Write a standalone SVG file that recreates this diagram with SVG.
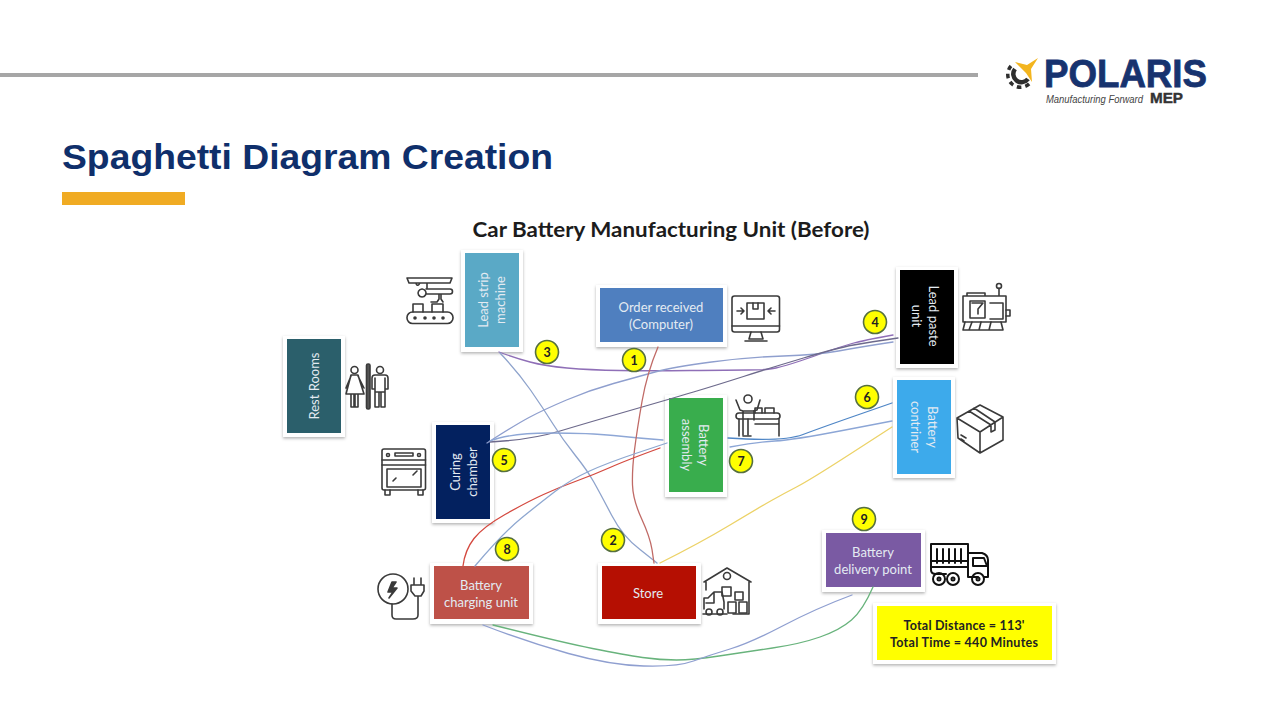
<svg xmlns="http://www.w3.org/2000/svg" width="1280" height="720" viewBox="0 0 1280 720">
<style>
.card{fill:#fff;filter:url(#sh)}
.lb{font-family:Lato,"Open Sans",sans-serif;font-size:13px;fill:#e4ebf2;text-anchor:middle}
.bd{fill:#ffff00;stroke:#56703f;stroke-width:1.6}
.bt{font-family:Lato,sans-serif;font-size:12.5px;font-weight:700;fill:#222;text-anchor:middle}
.c{fill:none;stroke-width:1.3;stroke-linecap:round;stroke-linejoin:round}
.ic{fill:none;stroke:#3a3a3a;stroke-width:1.6;stroke-linejoin:round;stroke-linecap:round}
.ib{fill:#3a3a3a;stroke:none}
</style>
<defs>
<filter id="sh" x="-15%" y="-15%" width="130%" height="130%"><feDropShadow dx="0" dy="1.5" stdDeviation="1.5" flood-color="#000" flood-opacity="0.3"/></filter>
</defs>
<rect width="1280" height="720" fill="#fff"/>
<rect x="0" y="73" width="978" height="4" fill="#a6a6a6"/>
<text x="62" y="169" font-family="Liberation Sans,Arial,sans-serif" font-size="35" font-weight="700" fill="#0f2f6b" textLength="491" lengthAdjust="spacingAndGlyphs">Spaghetti Diagram Creation</text>
<rect x="62" y="192" width="123" height="13" fill="#f0ab23"/>
<text x="671" y="237" font-family="Lato,sans-serif" font-size="20" font-weight="700" fill="#1c1c1c" text-anchor="middle" textLength="397" lengthAdjust="spacingAndGlyphs">Car Battery Manufacturing Unit (Before)</text>

<g id="logo">
<path d="M1015 69A8 8 0 1 0 1028 79" fill="none" stroke="#2e2e2e" stroke-width="4.500"/>
<path d="M1011 66A12 12 0 1 0 1030 83" fill="none" stroke="#2e2e2e" stroke-width="3.500" stroke-dasharray="4.500 4"/>
<polygon points="1038,58 1031,69 1032,82 1026,73 1015,62 1027,65" fill="#f3b51f"/>
<text x="1044" y="87" font-family="Liberation Sans,Arial,sans-serif" font-size="39" font-weight="700" fill="#17336f" stroke="#17336f" stroke-width="0.8" textLength="163" lengthAdjust="spacingAndGlyphs">POLARIS</text>
<text x="1046" y="103" font-family="Liberation Sans,Arial,sans-serif" font-size="10.5" font-style="italic" fill="#444" textLength="97" lengthAdjust="spacingAndGlyphs">Manufacturing Forward</text>
<text x="1150" y="103" font-family="Liberation Sans,Arial,sans-serif" font-size="14" font-weight="700" fill="#333" stroke="#333" stroke-width="0.4" textLength="33" lengthAdjust="spacingAndGlyphs">MEP</text>
</g>

<g id="n-leadstrip"><rect class="card" x="461" y="250" width="62" height="102"/><rect x="465" y="253" width="54" height="94" fill="#5aa9c6"/>
<text class="lb" transform="translate(488,300) rotate(-90)">Lead strip</text><text class="lb" transform="translate(505,300) rotate(-90)">machine</text>
<g class="ic"><path d="M407 278H452L450 283H409ZM416 283C417 287 419 285 420 283M427 283V288M422 289a4 4 0 1 0 0.1 0M426 289H450a2.500 2.500 0 0 1 0 5H426M439 294V299L437 302H431M441 294V299L443 302"/><rect x="407" y="312" width="46" height="11.500" rx="5.500"/><path d="M413 312V304H423V312M432 312V304H443V312"/></g>
<g class="ib"><circle cx="415" cy="318" r="1.800"/><circle cx="425" cy="318" r="1.800"/><circle cx="434" cy="318" r="1.800"/><circle cx="443" cy="318" r="1.800"/></g></g>

<g id="n-restrooms"><rect class="card" x="283" y="336" width="62" height="101"/><rect x="287" y="339" width="54" height="94" fill="#2b5f6b"/>
<text class="lb" transform="translate(319,386) rotate(-90)">Rest Rooms</text>
<g class="ic"><circle cx="354.500" cy="370" r="3.500"/><path d="M351 375H358L364 394H346ZM351 376L346 388M358 376L364 388M351 394V407H354V394M355 394V407H358V394"/><circle cx="380" cy="370" r="3.500"/><path d="M375 375H385Q388 375 388 378V389H385V378M375 378V389H372V378Q372 375 375 375M375 378V392H385V378M375 392V407H379V392M381 392V407H385V392"/><rect x="366.500" y="364" width="3.500" height="45" rx="1.500" fill="#555"/></g></g>

<g id="n-order"><rect class="card" x="596" y="285" width="131" height="62"/><rect x="600" y="288" width="123" height="54" fill="#4f7fbf"/>
<text class="lb" x="661" y="312">Order received</text><text class="lb" x="661" y="329">(Computer)</text>
<g class="ic"><rect x="732" y="296" width="47.500" height="36" rx="2.500"/><path d="M732 326H779.500M751 332L749 339H763L761 332M745 341H767"/><rect x="747" y="303" width="17" height="16"/><path d="M753 303V309H758V303M737 311H744M741 308L744 311L741 314M775 311H768M771 308L768 311L771 314"/></g></g>

<g id="n-leadpaste"><rect class="card" x="896" y="267" width="62" height="101"/><rect x="900" y="270" width="54" height="94" fill="#000"/>
<text class="lb" transform="translate(929,316) rotate(90)">Lead paste</text><text class="lb" transform="translate(912,316) rotate(90)">unit</text>
<g class="ic"><path d="M963 296H1006V322H963ZM967 296V293H985V296M970 301H985V318H970ZM972 303H983L978 309V314M990 303H1003V319H990M999 296V288"/><circle cx="999" cy="286" r="2.500"/><path d="M1006 310H1010V316H1006M965 322L963 330H1003L1001 322M972 322L969 330M981 322L979 330M991 322L989 330"/></g></g>

<g id="n-container"><rect class="card" x="893" y="377" width="62" height="101"/><rect x="897" y="380" width="54" height="94" fill="#3daaeb"/>
<text class="lb" transform="translate(928,427) rotate(90)">Battery</text><text class="lb" transform="translate(911,427) rotate(90)">contriner</text>
<g class="ic"><path d="M957 418L980 405L1003 417V440L980 453L958 438ZM957 418L980 432L1003 417M980 432V453M969 411L991 425V432L995 430V422L974 408"/><path d="M961 435L966 438M961 439L964 441"/></g></g>

<g id="n-assembly"><rect class="card" x="665" y="395" width="62" height="102"/><rect x="669" y="398" width="54" height="94" fill="#39ad4d"/>
<text class="lb" transform="translate(699,445) rotate(90)">Battery</text><text class="lb" transform="translate(682,445) rotate(90)">assembly</text>
<g class="ic"><circle cx="748" cy="399" r="4"/><path d="M736 400L740 410L743 411V435M753 411L757 410L760 400M743 411H754V420M748 435V419"/><rect x="736" y="413" width="44" height="6" rx="3"/><path d="M739 419V436M779 419V436M743 436H751M755 424H778M755 413V408H762V413M765 413V408H774V413"/></g></g>

<g id="n-curing"><rect class="card" x="432" y="422" width="62" height="101"/><rect x="436" y="425" width="54" height="94" fill="#03215f"/>
<text class="lb" transform="translate(460,472) rotate(-90)">Curing</text><text class="lb" transform="translate(477,472) rotate(-90)">chamber</text>
<g class="ic"><rect x="382" y="449" width="43.500" height="41" rx="2"/><path d="M382 460H425.500M382 465H425.500M387 469H421V487H387ZM393 481L396 478M413 475L417 471M385 490V495H390V490M418 490V495H423V490M395 453H413V456H395Z"/><circle cx="388" cy="455" r="1.500"/><circle cx="419" cy="455" r="1.500"/></g></g>

<g id="n-charging"><rect class="card" x="430" y="563" width="103" height="61"/><rect x="434" y="566" width="95" height="53" fill="#be5148"/>
<text class="lb" x="481" y="590">Battery</text><text class="lb" x="481" y="607">charging unit</text>
<g class="ic"><circle cx="393" cy="589" r="15"/><path d="M392 582L388 592H393L389 598L397 588H392L396 582Z" fill="#3a3a3a"/><path d="M392 604V615Q392 619 396 619H413Q418 619 418 615V596M414 578V585M421 578V585M411 585H424V591L421 596H415L411 591Z"/></g></g>

<g id="n-store"><rect class="card" x="598" y="563" width="103" height="61"/><rect x="602" y="566" width="94" height="53" fill="#b50f02"/>
<text class="lb" x="648" y="598">Store</text>
<g class="ic"><path d="M704 582L727 568L751 582M706 582V590M749 582V614H733"/><circle cx="727" cy="576" r="3.500"/><path d="M722 587H731V596H722ZM735 592H743V600H735ZM728 602H736V613H728ZM739 602H747V613H739Z"/><path d="M704 609V598H708L714 592H722L724 602V609M703 614H727M714 592V603H706"/><circle cx="709" cy="612" r="3"/><circle cx="720" cy="612" r="3"/></g></g>

<g id="n-delivery"><rect class="card" x="822" y="530" width="103" height="62"/><rect x="826" y="533" width="95" height="54" fill="#7a5aa3"/>
<text class="lb" x="873" y="557">Battery</text><text class="lb" x="873" y="574">delivery point</text>
<g class="ic" style="stroke:#111;stroke-width:2"><rect x="931" y="544" width="37" height="23"/><path d="M937 549V563M943 549V563M949 549V563M955 549V563M961 549V563M931 561H968M968 553H982Q988 555 988 560V577H984M968 553V577H978M946 574H936Q931 574 931 570V567"/><path d="M973 558H984L987 566H973Z"/><circle cx="939" cy="579" r="6"/><circle cx="953" cy="579" r="6"/><circle cx="978" cy="579" r="6"/><circle cx="939" cy="579" r="1.500"/><circle cx="953" cy="579" r="1.500"/><circle cx="978" cy="579" r="1.500"/></g></g>

<g id="n-total"><rect class="card" x="873" y="603" width="183" height="61"/><rect x="877" y="606" width="175" height="54" fill="#ffff00"/>
<text class="bt" x="964" y="630" textLength="121" lengthAdjust="spacing">Total Distance  = 113'</text><text class="bt" x="964" y="647" textLength="148" lengthAdjust="spacing">Total Time = 440 Minutes</text></g>

<g id="connectors">
<path class="c" stroke="#8f6fb7" d="M499 352Q515 358 530 362Q545 366 567 368Q590 370 620 370.500Q650 371 690 370.500Q730 370 748 370Q767 370 776 368Q785 366 800 361Q815 356 827 351.500Q840 347 852 343.500Q865 340 893 335"/>
<path class="c" stroke="#8f9fce" d="M487 443Q515 425 529 417.500Q543 410 566.500 400Q590 390 613.500 383.500Q637 377 655 372Q673 367 711.500 362Q750 357 783.500 356Q817 355 838.500 351Q860 347 893 342"/>
<path class="c" stroke="#6d6a8c" d="M490 442Q530 440 560 431Q590 422 630 410.500Q670 399 693.500 392Q717 385 743.500 376.500Q770 368 803.500 358Q837 348 853.500 345Q870 342 898 338"/>
<path class="c" stroke="#8ea7d6" d="M490 441Q510 433 550 433Q590 433 613.500 435.500Q637 438 663 440"/>
<path class="c" stroke="#8ea3cc" d="M500 353Q518 372 530.500 390Q543 408 553 424Q563 440 575 455Q587 470 593.500 481.500Q600 493 611.500 515Q623 537 640 549.500L657 563"/>
<path class="c" stroke="#c06a66" d="M658 347Q647 373 642 401.500Q637 430 634.500 450Q632 470 632.500 485Q633 500 641.500 518.500Q650 537 652 549.500L654 563"/>
<path class="c" stroke="#d4493f" stroke-width="1.500" d="M660 448Q627 460 610 467.500Q593 475 576.500 481Q560 487 543.500 494.500Q527 502 505 514.500Q483 527 474 538.500Q465 550 463 566"/>
<path class="c" stroke="#8ea7d0" d="M475 566Q503 533 521.500 518Q540 503 555 491.500Q570 480 588.500 471.500Q607 463 637 453L667 443"/>
<path class="c" stroke="#ecd267" d="M660 563Q700 543 730 525Q760 507 771.500 500.500Q783 494 796.500 487Q810 480 851 453.500L892 427"/>
<path class="c" stroke="#4f86c6" d="M728 438Q783 442 803 434.500Q823 427 857.500 415L892 403"/>
<path class="c" stroke="#8ca6d6" d="M730 447Q757 442 775 441Q793 440 842.500 430.500L892 421"/>
<path class="c" stroke="#68b37c" d="M493 625Q560 642 592.500 648.500Q625 655 642.500 657.500Q660 660 676.500 660Q693 660 719 656Q745 652 772.500 648Q800 644 820 637Q840 630 851.500 620Q863 610 873 587"/>
<path class="c" stroke="#8f9fd0" d="M483 625Q527 642 568.500 653.500Q610 665 643.500 666Q677 667 693.500 661Q710 655 730 649Q750 643 783.500 625.500Q817 608 852 595"/>
</g>

<g id="badges">
<g id="b1"><circle class="bd" cx="634" cy="360" r="11.500"/><text class="bt" x="634" y="364.500">1</text></g>
<g id="b2"><circle class="bd" cx="613" cy="540" r="11.500"/><text class="bt" x="613" y="544.500">2</text></g>
<g id="b3"><circle class="bd" cx="547" cy="352" r="11.500"/><text class="bt" x="547" y="356.500">3</text></g>
<g id="b4"><circle class="bd" cx="875" cy="322" r="11.500"/><text class="bt" x="875" y="326.500">4</text></g>
<g id="b5"><circle class="bd" cx="504" cy="460" r="11.500"/><text class="bt" x="504" y="464.500">5</text></g>
<g id="b6"><circle class="bd" cx="867" cy="397" r="11.500"/><text class="bt" x="867" y="401.500">6</text></g>
<g id="b7"><circle class="bd" cx="741" cy="461" r="11.500"/><text class="bt" x="741" y="465.500">7</text></g>
<g id="b8"><circle class="bd" cx="507" cy="549" r="11.500"/><text class="bt" x="507" y="553.500">8</text></g>
<g id="b9"><circle class="bd" cx="864" cy="519" r="11.500"/><text class="bt" x="864" y="523.500">9</text></g>
</g>
</svg>
